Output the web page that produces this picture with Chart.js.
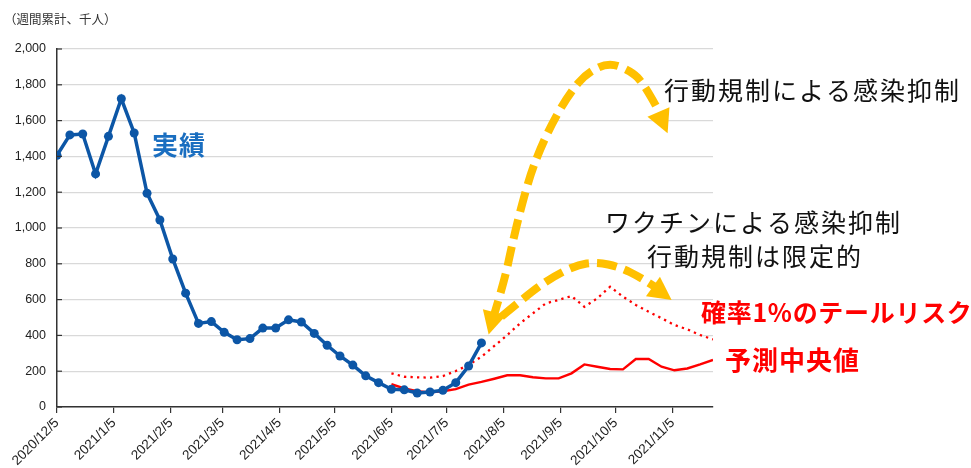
<!DOCTYPE html>
<html>
<head>
<meta charset="utf-8">
<script src="https://cdn.jsdelivr.net/npm/chart.js@4"></script>
<style>
  body { margin: 0; background: #fff; }
  #wrap { width: 971px; height: 468px; position: relative; }
</style>
</head>
<body>
<div id="wrap"><canvas id="chart"></canvas></div>
<script>
// x axis labels (monthly), weekly data starts 2020/12/5
const tickLabels = ['2020/12/5', '2021/1/5', '2021/2/5', '2021/3/5', '2021/4/5', '2021/5/5',
  '2021/6/5', '2021/7/5', '2021/8/5', '2021/9/5', '2021/10/5', '2021/11/5'];
const yTicks = [0, 200, 400, 600, 800, 1000, 1200, 1400, 1600, 1800, 2000];

// 実績 (weekly totals, thousand people), from week 0
const actual = [1406, 1520, 1525, 1302, 1512, 1722, 1531, 1194, 1045, 827, 636, 467, 477, 417,
  376, 382, 441, 441, 487, 475, 411, 345, 285, 234, 174, 136, 99, 96, 78, 84, 93, 136, 229, 358];
// forecasts, from week 26 (2021/6/5)
const forecastStart = 26;
const median = [127, 104, 88, 82, 88, 100, 125, 140, 158, 177, 177, 166, 160, 160, 188, 238,
  225, 212, 210, 268, 268, 225, 205, 215, 238, 263];
const tail = [188, 169, 166, 164, 173, 201, 235, 281, 341, 402, 467, 523, 579, 598, 620, 560,
  607, 672, 616, 570, 532, 496, 458, 434, 402, 378];

function dayOf(label) {
  const p = label.split('/').map(Number);
  return Math.round((Date.UTC(p[0], p[1] - 1, p[2]) - Date.UTC(2020, 11, 5)) / 864e5);
}
const tickDays = tickLabels.map(dayOf);
const lastWeek = forecastStart + median.length - 1;

function weekly(values, offset) {
  return values.map((v, i) => ({ x: (offset + i) * 7, y: v }));
}

// arrow paths in data units [day, value]
const bigArc = [[237, 486], [243.6, 709], [247.4, 894], [251.8, 1084], [257.2, 1285], [262.7, 1436],
  [269.8, 1592], [279, 1754], [288.3, 1866], [300.7, 1927], [313.2, 1871], [318.7, 1810],
  [325.2, 1698], [327.9, 1642]];
const bigTip = [332.3, 1530];
const bigStartTip = [234.9, 405];
const smallArc = [[241.8, 504], [257.2, 637], [269.7, 726], [282.8, 793], [293.7, 810],
  [306.2, 782], [317.1, 726], [326.3, 665]];
const smallTip = [334.5, 598];

const notes = [
  { text: '実績', x: 152, y: 145, font: 'bold 26px "Noto Sans CJK JP"', color: '#1a6ec0', sp: 1 },
  { text: '行動規制による感染抑制', x: 664, y: 90, font: '25px "Noto Sans CJK JP"', color: '#111', sp: 2 },
  { text: 'ワクチンによる感染抑制', x: 605, y: 222, font: '25px "Noto Sans CJK JP"', color: '#111', sp: 2 },
  { text: '行動規制は限定的', x: 647, y: 256, font: '25px "Noto Sans CJK JP"', color: '#111', sp: 2 },
  { text: '確率1%のテールリスク', x: 701, y: 312, font: 'bold 25px "Noto Sans CJK JP"', color: '#ff0000', sp: 0.7 },
  { text: '予測中央値', x: 725, y: 360, font: 'bold 26px "Noto Sans CJK JP"', color: '#ff0000', sp: 1 },
  { text: '（週間累計、千人）', x: 4, y: 19, font: '12.5px "Noto Sans CJK JP"', color: '#333', sp: 0 }
];

const annotate = {
  id: 'annotate',
  afterDraw(chart) {
    const ctx = chart.ctx, xs = chart.scales.x, ys = chart.scales.y;
    const P = d => [xs.getPixelForValue(d[0]), ys.getPixelForValue(d[1])];
    ctx.save();

    // small inner ticks on the y axis
    ctx.strokeStyle = '#333';
    ctx.lineWidth = 1.2;
    yTicks.forEach(v => {
      const y = ys.getPixelForValue(v);
      ctx.beginPath();
      ctx.moveTo(chart.chartArea.left, y);
      ctx.lineTo(chart.chartArea.left + 5, y);
      ctx.stroke();
    });

    const gold = '#ffc000';
    function curve(pts) {
      const p = pts.map(P);
      ctx.beginPath();
      ctx.moveTo(p[0][0], p[0][1]);
      for (let i = 1; i < p.length - 1; i++) {
        const mx = (p[i][0] + p[i + 1][0]) / 2, my = (p[i][1] + p[i + 1][1]) / 2;
        ctx.quadraticCurveTo(p[i][0], p[i][1], mx, my);
      }
      ctx.lineTo(p[p.length - 1][0], p[p.length - 1][1]);
      ctx.strokeStyle = gold;
      ctx.lineWidth = 8;
      ctx.setLineDash([20, 8]);
      ctx.lineCap = 'butt';
      ctx.stroke();
      ctx.setLineDash([]);
    }
    function head(from, tip) {
      const a = P(from), b = P(tip);
      let dx = b[0] - a[0], dy = b[1] - a[1];
      const len = Math.hypot(dx, dy);
      dx /= len; dy /= len;
      const L = 23, W = 12;
      const bx = b[0] - dx * L, by = b[1] - dy * L;
      ctx.beginPath();
      ctx.moveTo(b[0], b[1]);
      ctx.lineTo(bx - dy * W, by + dx * W);
      ctx.lineTo(bx + dy * W, by - dx * W);
      ctx.closePath();
      ctx.fillStyle = gold;
      ctx.fill();
    }
    curve(bigArc);
    head(bigArc[bigArc.length - 2], bigTip);
    head(bigArc[2], bigStartTip);
    curve(smallArc);
    head(smallArc[smallArc.length - 2], smallTip);

    // text notes
    ctx.textBaseline = 'middle';
    ctx.textAlign = 'left';
    notes.forEach(n => {
      ctx.font = n.font;
      ctx.fillStyle = n.color;
      ctx.letterSpacing = n.sp + 'px';
      ctx.fillText(n.text, n.x, n.y);
    });
    ctx.restore();
  }
};

new Chart(document.getElementById('chart'), {
  type: 'line',
  data: {
    datasets: [{
      data: weekly(actual, 0),
      borderColor: '#0c56a6',
      backgroundColor: '#0c56a6',
      borderWidth: 3.5,
      pointRadius: 4.5,
      pointBorderWidth: 0,
      tension: 0
    }, {
      data: weekly(median, forecastStart),
      borderColor: '#ff0000',
      borderWidth: 2.4,
      pointRadius: 0,
      tension: 0
    }, {
      data: weekly(tail, forecastStart),
      borderColor: '#ff0000',
      borderWidth: 2.3,
      borderDash: [2.3, 4.2],
      pointRadius: 0,
      tension: 0
    }]
  },
  options: {
    responsive: true,
    maintainAspectRatio: false,
    animation: false,
    devicePixelRatio: 1,
    layout: { padding: { top: 49, right: 258, left: 0, bottom: 0 } },
    plugins: { legend: { display: false }, tooltip: { enabled: false } },
    scales: {
      x: {
        type: 'linear',
        min: 0,
        max: lastWeek * 7,
        afterBuildTicks: s => { s.ticks = tickDays.map(v => ({ value: v })); },
        afterFit: s => { s.height = 61; },
        ticks: {
          autoSkip: false,
          maxRotation: 45,
          minRotation: 45,
          padding: 2,
          color: '#222',
          font: { family: 'Liberation Sans', size: 13.5 },
          callback: v => tickLabels[tickDays.indexOf(v)]
        },
        grid: { drawOnChartArea: false, tickLength: 6, tickColor: '#333', lineWidth: 1.2 },
        border: { color: '#333', width: 1.5 }
      },
      y: {
        min: 0,
        max: 2000,
        afterBuildTicks: s => { s.ticks = yTicks.map(v => ({ value: v })); },
        afterFit: s => { s.width = 57; },
        ticks: {
          padding: 11,
          color: '#222',
          font: { family: 'Liberation Sans', size: 12.5 },
          callback: v => v.toLocaleString('en-US')
        },
        grid: { color: '#d9d9d9', lineWidth: 1.3, drawTicks: false },
        border: { color: '#333', width: 1.5 }
      }
    }
  },
  plugins: [annotate]
});
</script>
</body>
</html>
